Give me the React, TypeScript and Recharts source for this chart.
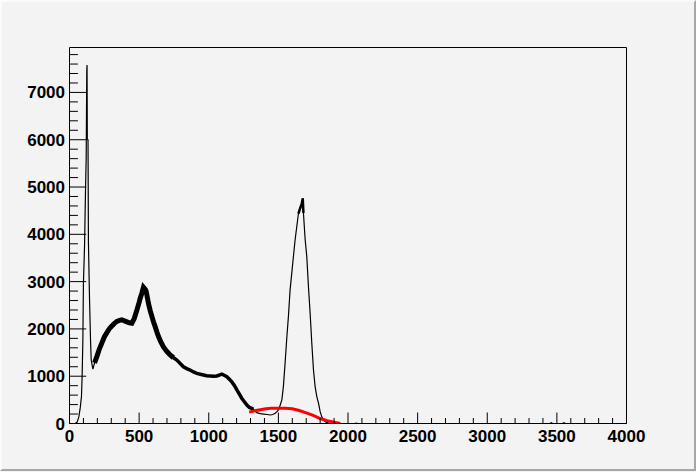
import React from "react";
import { LineChart, Line, XAxis, YAxis, ReferenceArea } from "recharts";

// Histogram channels and counts
const channels = [
  0, 40, 55, 67, 77, 86, 91, 96, 100, 108, 115, 120, 124, 126, 128, 133, 136, 144, 151, 156,
  168, 180, 197, 215, 232, 250, 268, 285, 304, 320, 340, 360, 376, 395, 412, 430, 448, 465,
  484, 500, 508, 520, 531, 545, 551, 560, 567, 580, 592, 603, 615, 627, 639, 657, 675, 700,
  723, 747, 771, 795, 818, 842, 866, 890, 915, 940, 962, 985, 1010, 1035, 1058, 1080, 1094,
  1110, 1130, 1150, 1166, 1185, 1202, 1220, 1238, 1256, 1274, 1292, 1309, 1320, 1345, 1370,
  1393, 1420, 1441, 1460, 1477, 1490, 1500, 1512, 1525, 1536, 1548, 1561, 1572, 1584, 1596,
  1608, 1620, 1632, 1644, 1656, 1668, 1675, 1680, 1692, 1704, 1716, 1728, 1740, 1752, 1764,
  1776, 1788, 1800, 1812, 1823, 1840, 1859, 1880, 1900, 2050, 2060, 2070, 3450, 3460, 3470,
  3540, 3550, 3560, 4000,
];
const counts = [
  0, 0, 30, 140, 330, 570, 1030, 1770, 2970, 3740, 4930, 5640, 7450, 7580, 6000, 6000, 3815,
  2610, 1765, 1340, 1150, 1280, 1420, 1580, 1700, 1830, 1920, 2000, 2060, 2110, 2160, 2180,
  2190, 2170, 2150, 2130, 2120, 2220, 2400, 2560, 2650, 2760, 2880, 2830, 2790, 2650, 2540,
  2380, 2260, 2150, 2050, 1940, 1840, 1720, 1620, 1520, 1450, 1390, 1340, 1270, 1200, 1160,
  1130, 1090, 1060, 1040, 1025, 1010, 1005, 1000, 1005, 1030, 1045, 1020, 990, 930, 880, 800,
  710, 620, 530, 460, 390, 340, 320, 300, 230, 210, 200, 190, 180, 190, 216, 250, 285, 380,
  500, 780, 1270, 1835, 2260, 2820, 3175, 3530, 3880, 4160, 4440, 4550, 4650, 4760, 4450,
  3900, 3530, 2890, 2330, 1700, 1130, 780, 570, 430, 250, 140, 75, 30, 10, 3, 0, 0, 10, 0, 0,
  15, 0, 0, 15, 0, 0,
];

// Fit curve (red)
const fitX = [1290, 1330, 1370, 1410, 1450, 1500, 1550, 1600, 1650, 1700, 1750, 1800, 1850, 1900, 1945];
const fitY = [240, 270, 290, 310, 320, 323, 322, 310, 275, 225, 170, 105, 60, 25, 0];

// Axis ticks
const xTicks = Array.from({ length: 41 }, (_, i) => i * 100);
const yTicks = Array.from({ length: 40 }, (_, i) => i * 200);
const X_MAX = 4000;
const Y_MAX = 7950;

// channel ranges where the statistical scatter makes the trace look thick
const heavyRange: [number, number] = [172, 760];
const mediumRange: [number, number] = [740, 1330];
const peakRange: [number, number] = [1640, 1682];
const inRange = (x: number, r: [number, number]) => x >= r[0] && x <= r[1];

const histRows = channels.map((x, i) => ({
  x,
  y: counts[i],
  heavy: inRange(x, heavyRange) ? counts[i] : null,
  medium: inRange(x, mediumRange) ? counts[i] : null,
  peak: inRange(x, peakRange) ? counts[i] : null,
}));
const fitRows = fitX.map((x, i) => ({ x, y: fitY[i] }));

const W = 696;
const H = 472;
const PLOT_LEFT = 69.5;
const PLOT_BOTTOM = 423.5;
const FONT = "'Liberation Sans', Arial, Helvetica, sans-serif";

const XTick = (props: any) => {
  const { x, payload } = props;
  const v = payload.value as number;
  const major = v % 500 === 0;
  const len = major ? 11 : 5.5;
  return (
    <g>
      <line x1={x} x2={x} y1={PLOT_BOTTOM} y2={PLOT_BOTTOM - len} stroke="#000" strokeWidth={1} />
      {major && (
        <text
          x={x}
          y={441.5}
          textAnchor="middle"
          fontFamily={FONT}
          fontWeight="bold"
          fontSize={17}
          fill="#000"
        >
          {v}
        </text>
      )}
    </g>
  );
};

const YTick = (props: any) => {
  const { y, payload } = props;
  const v = payload.value as number;
  const major = v % 1000 === 0;
  const len = major ? 16.7 : 8.4;
  return (
    <g>
      <line x1={PLOT_LEFT} x2={PLOT_LEFT + len} y1={y} y2={y} stroke="#000" strokeWidth={1} />
      {major && (
        <text
          x={65}
          y={y + 6}
          textAnchor="end"
          fontFamily={FONT}
          fontWeight="bold"
          fontSize={17}
          fill="#000"
        >
          {v}
        </text>
      )}
    </g>
  );
};

export default function App() {
  return (
    <div
      style={{
        position: "absolute",
        left: 0,
        top: 0,
        width: W,
        height: H,
        background: "#f3f3f3",
        overflow: "hidden",
      }}
    >
      <div
        style={{
          position: "absolute",
          left: 0,
          top: 0,
          width: W,
          height: H - 1,
          boxSizing: "border-box",
          borderTop: "2px solid #fbfbfb",
          borderLeft: "2px solid #fbfbfb",
          borderRight: "2px solid #a6a6a6",
          borderBottom: "2px solid #a6a6a6",
        }}
      />
      <div style={{ position: "absolute", left: 0, top: 0 }}>
        <LineChart
          width={W}
          height={H}
          data={histRows}
          margin={{ top: 47.5, right: 69.5, bottom: 18.5, left: 39.5 }}
        >
          <ReferenceArea
            x1={0}
            x2={X_MAX}
            y1={0}
            y2={Y_MAX}
            stroke="#000"
            strokeWidth={1}
            fill="none"
            fillOpacity={0}
            ifOverflow="visible"
          />
          <XAxis
            dataKey="x"
            type="number"
            domain={[0, X_MAX]}
            ticks={xTicks}
            interval={0}
            height={30}
            axisLine={false}
            tickLine={false}
            tick={<XTick />}
            allowDataOverflow
          />
          <YAxis
            type="number"
            domain={[0, Y_MAX]}
            ticks={yTicks}
            interval={0}
            width={30}
            axisLine={false}
            tickLine={false}
            tick={<YTick />}
            allowDataOverflow
          />
          <Line
            type="linear"
            dataKey="y"
            stroke="#000"
            strokeWidth={1.2}
            dot={false}
            isAnimationActive={false}
          />
          <Line
            type="linear"
            dataKey="heavy"
            stroke="#000"
            strokeWidth={5}
            dot={false}
            connectNulls={false}
            isAnimationActive={false}
          />
          <Line
            type="linear"
            dataKey="medium"
            stroke="#000"
            strokeWidth={3.5}
            dot={false}
            connectNulls={false}
            isAnimationActive={false}
          />
          <Line
            type="linear"
            dataKey="peak"
            stroke="#000"
            strokeWidth={2.5}
            dot={false}
            connectNulls={false}
            isAnimationActive={false}
          />
          <Line
            data={fitRows}
            type="linear"
            dataKey="y"
            stroke="#ff0000"
            strokeWidth={3}
            dot={false}
            isAnimationActive={false}
          />
        </LineChart>
      </div>
    </div>
  );
}
